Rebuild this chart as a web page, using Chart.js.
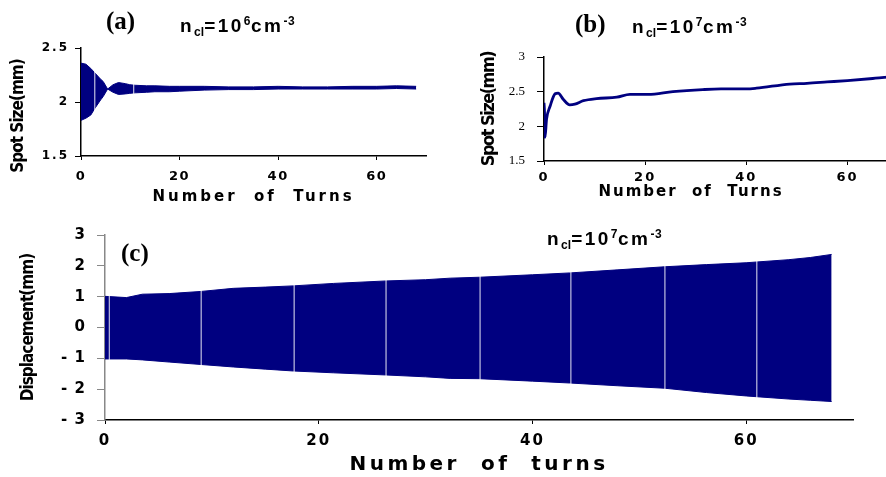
<!DOCTYPE html>
<html>
<head>
<meta charset="utf-8">
<script src="https://cdn.jsdelivr.net/npm/chart.js@4.4.1/dist/chart.umd.min.js"></script>
<style>
  html, body { margin: 0; padding: 0; background: #fff; }
  body { position: relative; width: 886px; height: 477px; overflow: hidden; }
  canvas { position: absolute; }
  .tag {
    position: absolute;
    font-family: "Liberation Serif", "DejaVu Serif", serif;
    font-weight: bold; font-size: 25px; line-height: 25px;
  }
  .dens {
    position: absolute; white-space: nowrap;
    font-family: "Liberation Sans", Arial, sans-serif;
    font-weight: bold; font-size: 19px; line-height: 19px; letter-spacing: 2.5px;
  }
  .dens .lo { font-size: 12px; position: relative; top: 4px; letter-spacing: 0; }
  .dens .hi { font-size: 12px; position: relative; top: -7px; letter-spacing: 0.5px; }
</style>
</head>
<body>
<canvas id="chartA" width="440" height="180" style="left:0;top:30px"></canvas>
<canvas id="chartB" width="500" height="180" style="left:450px;top:30px"></canvas>
<canvas id="chartC" width="886" height="262" style="left:0;top:215px"></canvas>

<div class="tag" style="left:106px;top:8px">(a)</div>
<div class="dens" style="left:180px;top:16px">n<span class="lo">cl</span>=10<span class="hi">6</span>cm<span class="hi">-3</span></div>
<div class="tag" style="left:575px;top:11px">(b)</div>
<div class="dens" style="left:632px;top:17px">n<span class="lo">cl</span>=10<span class="hi">7</span>cm<span class="hi">-3</span></div>
<div class="tag" style="left:121px;top:240px">(c)</div>
<div class="dens" style="left:547px;top:229px">n<span class="lo">cl</span>=10<span class="hi">7</span>cm<span class="hi">-3</span></div>

<script>
// ---- data ----
const xTicks = [0, 20, 40, 60];

// (a) spot size envelope, n_cl = 1e6
const turnsA = [0, 1, 2, 2.8, 4, 4.5, 5.4, 6.5, 7.6, 9, 9.9, 11, 13.3, 15, 18, 20, 25, 30, 35, 40, 45, 50, 55, 60, 64, 68];
const upperA = [2.36, 2.35, 2.31, 2.27, 2.21, 2.19, 2.12, 2.16, 2.18, 2.17, 2.16, 2.155, 2.15, 2.15, 2.145, 2.145, 2.145, 2.14, 2.14, 2.145, 2.14, 2.14, 2.145, 2.145, 2.15, 2.145];
const lowerA = [1.83, 1.85, 1.88, 1.94, 2.02, 2.05, 2.12, 2.09, 2.07, 2.075, 2.08, 2.085, 2.09, 2.095, 2.095, 2.10, 2.11, 2.115, 2.115, 2.12, 2.12, 2.12, 2.12, 2.12, 2.125, 2.12];
const gapTurnsA = [2.8, 10.7];
const gapSpanA = [1.9, 2.3];
const yTicksA = [1.5, 2, 2.5];

// (b) spot size, n_cl = 1e7
const turnsB = [0, 0.1, 0.2, 0.5, 1.2, 2.2, 2.8, 3.8, 5.1, 6.1, 7.8, 10.4, 14.4, 17, 20.6, 25.5, 31.4, 35, 40, 42, 48.6, 52, 56, 60, 65, 68, 70];
const spotB  = [2.34, 2.2, 1.84, 2.10, 2.29, 2.47, 2.48, 2.39, 2.31, 2.32, 2.37, 2.40, 2.42, 2.46, 2.46, 2.50, 2.53, 2.54, 2.54, 2.55, 2.61, 2.62, 2.64, 2.66, 2.69, 2.71, 2.72];
const yTicksB = [1.5, 2, 2.5, 3];

// (c) displacement envelope, n_cl = 1e7
const turnsC = [0, 2, 3.5, 6, 9, 12, 15, 17.6, 21.4, 26.3, 30, 32.3, 35, 40, 43.5, 48, 52.4, 56.3, 60, 64, 66, 68];
const upperC = [1.01, 0.97, 1.08, 1.10, 1.17, 1.27, 1.31, 1.35, 1.43, 1.51, 1.55, 1.60, 1.63, 1.71, 1.77, 1.87, 1.97, 2.04, 2.10, 2.20, 2.27, 2.37];
const lowerC = [-1.02, -1.02, -1.05, -1.12, -1.20, -1.28, -1.35, -1.41, -1.47, -1.54, -1.60, -1.65, -1.66, -1.74, -1.80, -1.89, -1.97, -2.11, -2.22, -2.32, -2.36, -2.40];
const gapTurnsC = [0.4, 9.0, 17.7, 26.3, 35.1, 43.6, 52.4, 61.0];
const gapSpanC = [-2.5, 2.5];
const yTicksC = [-3, -2, -1, 0, 1, 2, 3];

const NAVY = '#000080';

// ---- helpers ----
function points(xs, ys) {
  return xs.map((x, i) => ({ x: x, y: ys[i] }));
}

// white hairlines where the simulation output has gaps
function gapLines(turns, span) {
  const out = [];
  turns.forEach(t => {
    out.push({ x: t, y: span[0] }, { x: t, y: span[1] }, { x: t, y: null });
  });
  return out;
}

function bandDatasets(xs, up, low, gaps, span) {
  return [
    { data: gapLines(gaps, span), borderColor: 'rgba(255,255,255,0.9)', borderWidth: 1, pointRadius: 0, spanGaps: false, order: 0 },
    { data: points(xs, up), borderColor: NAVY, backgroundColor: NAVY, borderWidth: 1, pointRadius: 0, fill: '+1', order: 1 },
    { data: points(xs, low), borderColor: NAVY, borderWidth: 1, pointRadius: 0, fill: false, order: 2 }
  ];
}

// Chart.js has no letter-spacing option, so wrap the scale text drawing
// (also lets a title sit off-centre like in the original figure)
const spacingPlugin = {
  id: 'spacing',
  afterLayout(chart, args, opts) {
    Object.values(chart.scales).forEach(scale => {
      if (scale._spaced) return;
      const s = opts[scale.id] || {};
      [['drawLabels', s.ticks, null], ['drawTitle', s.title, s.shift]].forEach(([fn, sp, shift]) => {
        if (!sp && !shift) return;
        const orig = scale[fn];
        scale[fn] = function (...a) {
          this.ctx.save();
          if (sp) this.ctx.letterSpacing = sp;
          if (shift) this.ctx.translate(shift[0], shift[1]);
          orig.apply(this, a);
          this.ctx.restore();
        };
      });
      scale._spaced = true;
    });
  }
};

const yTitleFamily = '"DejaVu Sans Condensed", "DejaVu Sans", sans-serif';
const wideFamily = '"DejaVu Sans", sans-serif';

function panelOptions(p) {
  return {
    responsive: false,
    animation: false,
    events: [],
    layout: { padding: p.padding },
    plugins: { legend: { display: false }, tooltip: { enabled: false }, spacing: p.spacing },
    scales: {
      x: {
        type: 'linear', min: 0, max: 70,
        afterFit: s => { s.height = p.xHeight; },
        afterBuildTicks: s => { s.ticks = xTicks.map(v => ({ value: v })); },
        grid: { drawOnChartArea: false, tickLength: p.xTickLen, color: '#000', lineWidth: 1 },
        border: { color: '#000', width: 1.5 },
        ticks: { color: '#000', autoSkip: false, maxRotation: 0, padding: p.xTickPad, font: p.xTickFont },
        title: { display: true, text: p.xTitle, color: '#000', font: p.xTitleFont, padding: 0 }
      },
      y: {
        type: 'linear', min: p.yTicks[0], max: p.yTicks[p.yTicks.length - 1],
        afterFit: s => { s.width = p.yWidth; },
        afterBuildTicks: s => { s.ticks = p.yTicks.map(v => ({ value: v })); },
        grid: { drawOnChartArea: false, tickLength: p.yTickLen, color: p.yTickColor || '#000', lineWidth: 1 },
        border: { color: p.yAxisColor || '#000', width: 1.5 },
        ticks: { color: '#000', autoSkip: false, padding: p.yTickPad, font: p.yTickFont, callback: p.yFormat },
        title: { display: true, text: p.yTitle, color: '#000', font: p.yTitleFont, padding: { top: p.yTitlePad, bottom: 0 } }
      }
    }
  };
}

// (a)
new Chart(document.getElementById('chartA'), {
  type: 'line',
  data: { datasets: bandDatasets(turnsA, upperA, lowerA, gapTurnsA, gapSpanA) },
  plugins: [spacingPlugin],
  options: panelOptions({
    padding: { top: 18, right: 14, bottom: 4, left: 0 },
    xHeight: 50, yWidth: 81,
    xTickLen: 4, xTickPad: 9, xTickFont: { family: wideFamily, size: 13, weight: 'bold' },
    xTitle: 'Number  of  Turns', xTitleFont: { family: wideFamily, size: 15, weight: 'bold' },
    yTicks: yTicksA, yTickLen: 6, yTickPad: 6, yTickFont: { family: wideFamily, size: 12, weight: 'bold' },
    yTitle: 'Spot Size(mm)', yTitleFont: { family: yTitleFamily, size: 17, weight: 'bold' }, yTitlePad: 8,
    spacing: { x: { ticks: '1.5px', title: '3px' }, y: { ticks: '2px', title: '-1px', shift: [0, 14] } }
  })
});

// (b)
new Chart(document.getElementById('chartB'), {
  type: 'line',
  data: {
    datasets: [{
      data: points(turnsB, spotB), borderColor: NAVY, borderWidth: 2.8, pointRadius: 0,
      cubicInterpolationMode: 'monotone', fill: false
    }]
  },
  plugins: [spacingPlugin],
  options: panelOptions({
    padding: { top: 27, right: 52, bottom: 9, left: 0 },
    xHeight: 40, yWidth: 94,
    xTickLen: 4, xTickPad: 5, xTickFont: { family: wideFamily, size: 13, weight: 'bold' },
    xTitle: 'Number  of  Turns', xTitleFont: { family: wideFamily, size: 15, weight: 'bold' },
    yTicks: yTicksB, yTickLen: 7, yTickPad: 12, yTickFont: { family: '"Liberation Serif", serif', size: 13 },
    yTitle: 'Spot Size(mm)', yTitleFont: { family: yTitleFamily, size: 18, weight: 'bold' }, yTitlePad: 29,
    spacing: { x: { ticks: '2px', title: '2px', shift: [-30, 0] }, y: { title: '-1.5px' } }
  })
});

// (c)
new Chart(document.getElementById('chartC'), {
  type: 'line',
  data: { datasets: bandDatasets(turnsC, upperC, lowerC, gapTurnsC, gapSpanC) },
  plugins: [spacingPlugin],
  options: panelOptions({
    padding: { top: 14, right: 33, bottom: 0, left: 0 },
    xHeight: 57, yWidth: 105,
    xTickLen: 4, xTickPad: 8, xTickFont: { family: wideFamily, size: 15, weight: 'bold' },
    xTitle: 'Number  of  turns', xTitleFont: { family: wideFamily, size: 20, weight: 'bold' },
    yTicks: yTicksC, yTickLen: 8, yTickPad: 11, yTickColor: '#888', yAxisColor: '#888',
    yTickFont: { family: wideFamily, size: 15, weight: 'bold' },
    yFormat: v => (v < 0 ? '- ' + Math.abs(v) : String(v)),
    yTitle: 'Displacement(mm)', yTitleFont: { family: yTitleFamily, size: 17, weight: 'bold' }, yTitlePad: 18,
    spacing: { x: { ticks: '2px', title: '3.5px' }, y: { ticks: '1px', title: '-1px' } }
  })
});
</script>
</body>
</html>
